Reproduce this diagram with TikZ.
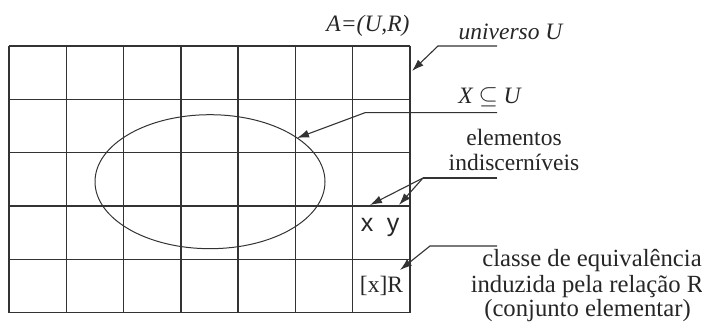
\documentclass[tikz,border=0pt]{standalone}
\usepackage{fontspec}
\setmainfont{Liberation Serif}
\newfontfamily\sansf{Liberation Sans}
\usetikzlibrary{arrows.meta}
\begin{document}
\begin{tikzpicture}[x=1pt,y=-1pt,
  gridline/.style={line width=1.3pt, draw=black!80},
  leader/.style={line width=1.1pt, draw=black!80},
  arr/.style={leader, -{Latex[length=12pt,width=8pt]}},
  lbl/.style={font=\fontsize{23.5}{26}\selectfont, text=black!85, inner sep=0pt, anchor=base},
  biglbl/.style={lbl, font=\fontsize{24.7}{27}\selectfont}]
\useasboundingbox (0,0) rectangle (702,323);
% grid
\foreach \i in {0,...,7}
  \draw[gridline] ({9+\i*401/7},46) -- ({9+\i*401/7},312.7);
\foreach \j in {0,...,5}
  \draw[gridline] (9,{46+\j*53.34}) -- (410,{46+\j*53.34});
% ellipse X
\draw[line width=1pt, draw=black!80] (210,181.7) ellipse [x radius=115pt, y radius=67pt];
% labels
\node[lbl] (A) at (368,32) {\itshape A=(U,R)};
\node[lbl] (univ) at (510.5,40) {\itshape universo U};
\node[lbl] (XU) at (489.5,104) {\itshape X $\subseteq$ U};
\node[lbl] (elem) at (514,145.5) {elementos};
\node[lbl] (indis) at (514,171) {indiscerníveis};
\node[biglbl] (cl1) at (592,267) {classe de equivalência};
\node[biglbl] (cl2) at (587,292.5) {induzida pela relação R};
\node[biglbl] (cl3) at (587.5,316.7) {(conjunto elementar)};
\node[lbl, font=\fontsize{25}{27}\selectfont] (ex) at (367,231.7) {\sansf x};
\node[lbl, font=\fontsize{25}{27}\selectfont] (ey) at (393,231.7) {\sansf y};
\node[lbl] (xR) at (381.5,293) {[x]R};
% leader coordinates
\coordinate (uEnd) at (497,46);   \coordinate (uBend) at (438,46);   \coordinate (uTip) at (412,71);
\coordinate (sEnd) at (497,112.7); \coordinate (sBend) at (365,112.7); \coordinate (sTip) at (297,138);
\coordinate (iEnd) at (497,178);  \coordinate (iBend) at (423,178);  \coordinate (iTipX) at (370,205); \coordinate (iTipY) at (399,205);
\coordinate (cEnd) at (497,246);  \coordinate (cBend) at (430,246);  \coordinate (cTip) at (400,270);
% leaders
\draw[arr] (uEnd) -- (uBend) -- (uTip);
\draw[arr] (sEnd) -- (sBend) -- (sTip);
\draw[leader] (iEnd) -- (iBend);
\draw[arr] (iBend) -- (iTipX);
\draw[arr] (iBend) -- (iTipY);
\draw[arr] (cEnd) -- (cBend) -- (cTip);
\end{tikzpicture}
\end{document}
